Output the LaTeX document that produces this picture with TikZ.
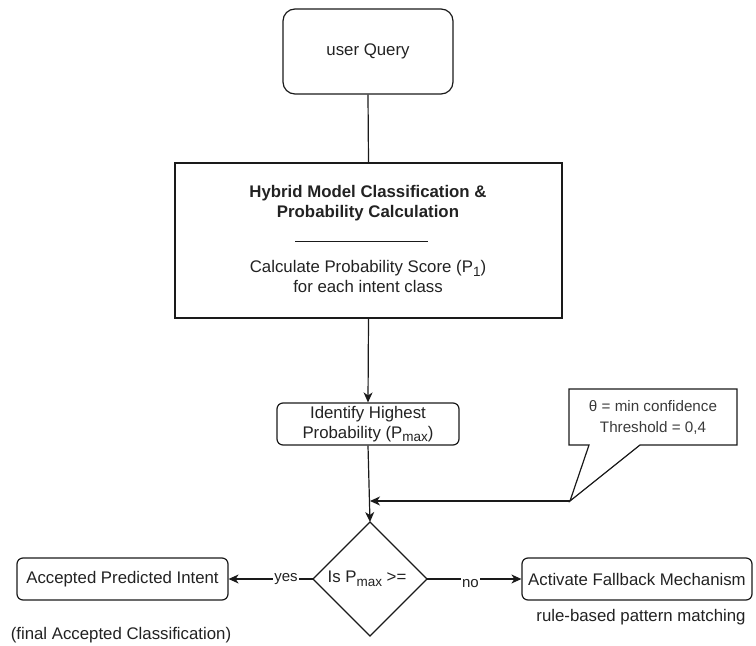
\documentclass[tikz,border=0pt]{standalone}
\usepackage{fontspec}
\setmainfont{Liberation Sans}
\usetikzlibrary{arrows.meta}
\definecolor{ink}{HTML}{1A1A1A}
\definecolor{txt}{HTML}{222222}
\definecolor{softtxt}{HTML}{3A3A3A}
% lowered subscript in the style of the diagram editor
\newcommand{\lowsub}[1]{\raisebox{-3.5pt}{\fontsize{13.5}{14}\selectfont #1}}
\tikzset{
  base/.style={draw=ink, line width=1.2pt, text=txt, align=center,
    font=\fontsize{16.8}{20}\selectfont, inner sep=0pt},
  roundbox/.style={base, rounded corners=6pt},
  bigbox/.style={base},
  conn/.style={draw=ink, line width=1.2pt},
  arr/.style={conn, -{Stealth[length=10pt,width=9pt,inset=3pt]}},
  plain/.style={text=txt, font=\fontsize{16.8}{20}\selectfont, align=center, inner sep=0pt},
  edgelbl/.style={text=txt, font=\fontsize{15}{18}\selectfont, fill=white, inner xsep=1.5pt, inner ysep=3pt},
}
\begin{document}
\begin{tikzpicture}[x=1pt,y=-1pt]
\useasboundingbox (0,0) rectangle (756,646);

% start node
\node[roundbox, rounded corners=12pt, minimum width=170pt, minimum height=85pt] (query) at (368,51.5) {user Query};

% classification box
\node[bigbox, minimum width=387pt, minimum height=155pt] (hybrid) at (368.5,240.5) {};
\node[plain, font=\fontsize{16.8}{20}\selectfont\bfseries] (title) at (368,203) {Hybrid Model Classification \&\\Probability Calculation};
\coordinate (ruleL) at (295,241);
\coordinate (ruleR) at (428,241);
\draw[conn, line width=0.9pt] (ruleL) -- (ruleR);
\node[plain] (calc) at (368,276.5) {Calculate Probability Score (P\lowsub{1})\\for each intent class};

% highest probability
\node[roundbox, minimum width=182pt, minimum height=42pt] (ident) at (368,424) {Identify Highest\\Probability (P\lowsub{max})};

% threshold callout
\node[text=softtxt, font=\fontsize{15.2}{21}\selectfont, align=center, inner sep=0pt] (theta) at (653,417.5) {θ = min confidence\\Threshold = 0,4};
\coordinate (tip) at (570,501);
\draw[conn, line join=miter] (569,389) -- (737,389) -- (737,445) -- (640,445) -- (tip) -- (589,445) -- (569,445) -- cycle;

% decision
\node[base, shape=rectangle, draw=none, minimum width=1pt] (dec) at (367,579) {Is P\lowsub{max} >=};
\coordinate (dT) at (370,522);
\coordinate (dB) at (370,636);
\coordinate (dL) at (313,579);
\coordinate (dR) at (427,579);
\draw[conn, line join=miter] (dT) -- (dR) -- (dB) -- (dL) -- cycle;

% outcomes
\node[roundbox, minimum width=211pt, minimum height=42pt] (accept) at (122.5,579) {Accepted Predicted Intent};
\node[roundbox, minimum width=230pt, minimum height=42pt] (fallback) at (637,579) {Activate Fallback Mechanism};
\node[plain] (final) at (121,635) {(final Accepted Classification)};
\node[plain] (rules) at (641,617) {rule-based pattern matching};

% connectors
\coordinate (merge) at (370,501);
\draw[conn] (query.south) -- (hybrid.north);
\draw[arr] (hybrid.south) -- (ident.north);
\draw[arr] (ident.south) -- (dT);
\draw[arr] (tip) -- (merge);
\draw[arr] (dL) -- node[edgelbl, pos=0.32] (yes) {yes} (accept.east);
\draw[arr] (dR) -- node[edgelbl, pos=0.46, yshift=-5pt] (no) {no} (fallback.west);
\end{tikzpicture}
\end{document}
